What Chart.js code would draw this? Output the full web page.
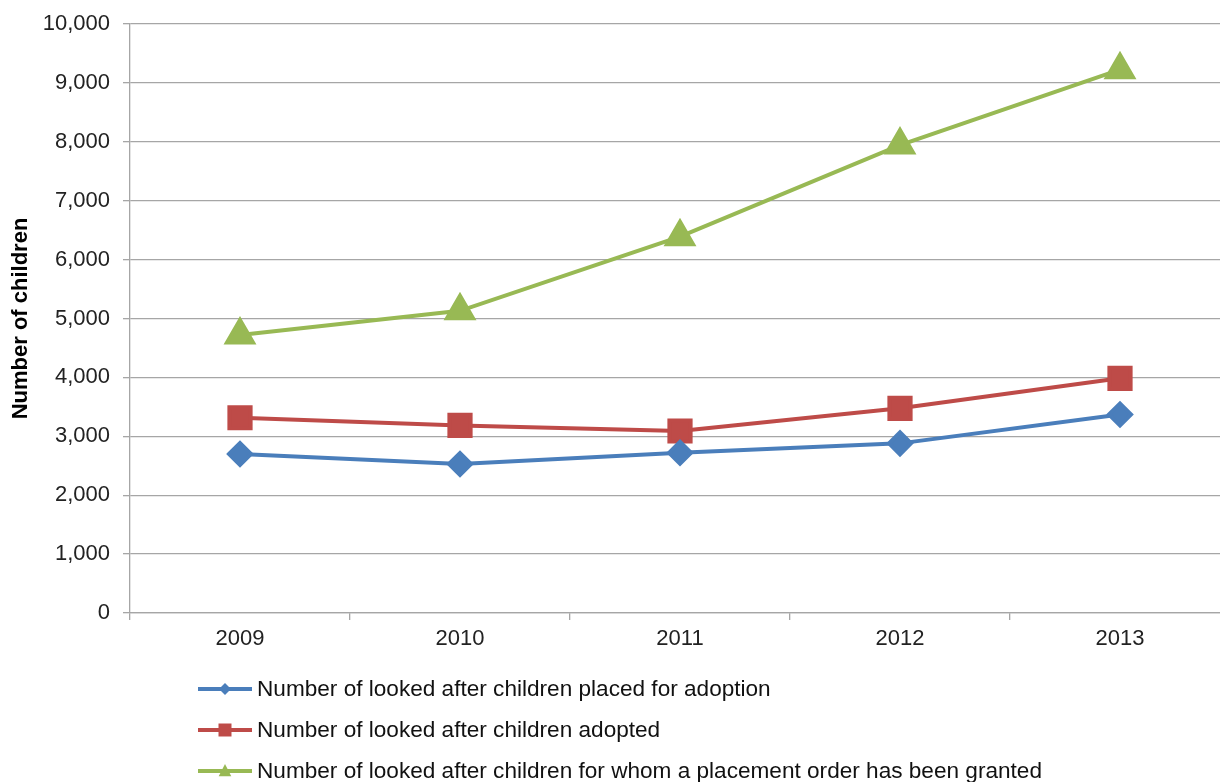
<!DOCTYPE html>
<html>
<head>
<meta charset="utf-8">
<script src="https://cdn.jsdelivr.net/npm/chart.js@4"></script>
<style>
  html, body { margin: 0; padding: 0; background: #fff; overflow: hidden; }
  #chart { display: block; }
</style>
</head>
<body>
<canvas id="chart" width="1232" height="782"></canvas>
<script>
const years = ['2009', '2010', '2011', '2012', '2013'];
const placedForAdoption = [2700, 2530, 2720, 2880, 3370];
const adopted = [3315, 3185, 3090, 3475, 3985];
const placementOrder = [4720, 5130, 6390, 7945, 9225];
const seriesNames = [
    'Number of looked after children placed for adoption',
    'Number of looked after children adopted',
    'Number of looked after children for whom a placement order has been granted'
];

const font = 'Liberation Sans, Arial, sans-serif';
const gridGray = '#a6a6a6';

function drawMarker (ctx, style, x, y, r, color) {
    ctx.fillStyle = color;
    ctx.beginPath();
    if (style === 'rectRot') {
        ctx.moveTo(x, y - r); ctx.lineTo(x + r, y); ctx.lineTo(x, y + r); ctx.lineTo(x - r, y);
    } else if (style === 'rect') {
        ctx.rect(x - r, y - r, 2 * r, 2 * r);
    } else {
        ctx.moveTo(x, y - r); ctx.lineTo(x + r * 0.9, y + r * 0.75); ctx.lineTo(x - r * 0.9, y + r * 0.75);
    }
    ctx.closePath();
    ctx.fill();
}

// legend down the bottom left, one row per series
const listLegend = {
    id: 'listLegend',
    afterDraw (chart) {
        const ctx = chart.ctx;
        const top = chart.chartArea.bottom + 76;
        const sizes = [6, 6.5, 7];
        ctx.save();
        chart.data.datasets.forEach((ds, i) => {
            const y = top + i * 41;
            ctx.strokeStyle = ds.borderColor;
            ctx.lineWidth = 4;
            ctx.beginPath();
            ctx.moveTo(198, y);
            ctx.lineTo(252, y);
            ctx.stroke();
            drawMarker(ctx, ds.pointStyle, 225, y, sizes[i], ds.borderColor);
            ctx.fillStyle = '#111';
            ctx.font = '22.6px ' + font;
            ctx.textBaseline = 'middle';
            ctx.fillText(ds.label, 257, y + 1);
        });
        ctx.restore();
    }
};

const ctx = document.getElementById('chart').getContext('2d');
const chart = new Chart(ctx, {
    type: 'line',
    data: {
        labels: years,
        datasets: [
            {
                label: seriesNames[0],
                data: placedForAdoption,
                borderColor: '#4a7ebb',
                backgroundColor: '#4a7ebb',
                pointStyle: 'rectRot',
                pointRadius: 11,
                borderWidth: 4
            },
            {
                label: seriesNames[1],
                data: adopted,
                borderColor: '#be4b48',
                backgroundColor: '#be4b48',
                pointStyle: 'rect',
                pointRadius: 15,
                borderWidth: 4
            },
            {
                label: seriesNames[2],
                data: placementOrder,
                borderColor: '#98b954',
                backgroundColor: '#98b954',
                pointStyle: 'triangle',
                pointRadius: 15,
                borderWidth: 4
            }
        ]
    },
    options: {
        responsive: false,
        maintainAspectRatio: false,
        animation: false,
        devicePixelRatio: 1,
        layout: { autoPadding: false, padding: { left: 0, top: 24, right: 2, bottom: 129 } },
        elements: {
            line: { tension: 0 },
            point: { borderWidth: 0, hoverRadius: 14 }
        },
        plugins: {
            legend: { display: false },
            tooltip: { enabled: false }
        },
        scales: {
            x: {
                offset: true,
                grid: {
                    offset: true,
                    drawOnChartArea: false,
                    drawTicks: true,
                    tickLength: 7,
                    color: gridGray,
                    lineWidth: 1.3
                },
                border: { color: gridGray, width: 1.3 },
                ticks: { color: '#222', padding: 6, font: { family: font, size: 22 } },
                afterFit (scale) {
                    scale.height = 40;
                    scale.paddingLeft = 0;
                    scale.paddingRight = 0;
                }
            },
            y: {
                min: 0,
                max: 10000,
                ticks: {
                    stepSize: 1000,
                    color: '#222',
                    padding: 13,
                    font: { family: font, size: 22 },
                    callback: v => v.toLocaleString('en-US')
                },
                grid: { color: gridGray, lineWidth: 1.3, tickLength: 7 },
                border: { color: gridGray, width: 1.3 },
                title: {
                    display: true,
                    text: 'Number of children',
                    color: '#000',
                    font: { family: font, size: 22, weight: 'bold' },
                    padding: { top: 8, bottom: 0 }
                },
                afterFit (scale) {
                    scale.width = 130;
                    scale.paddingTop = 0;
                    scale.paddingBottom = 0;
                }
            }
        }
    },
    plugins: [listLegend]
});
</script>
</body>
</html>
